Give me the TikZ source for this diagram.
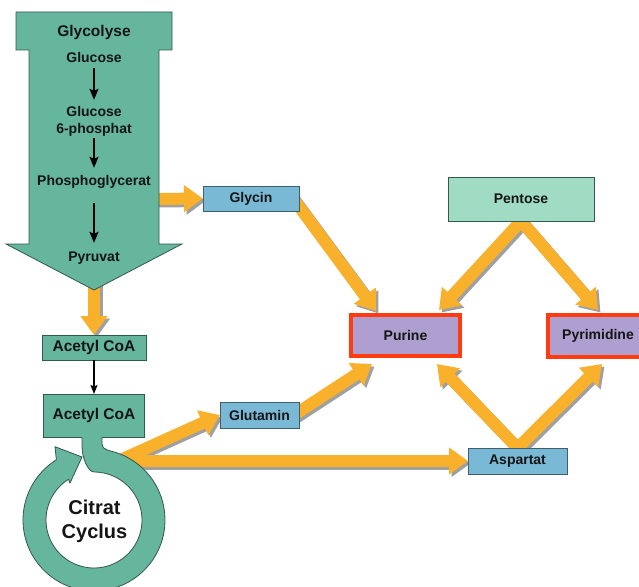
\documentclass[tikz,border=0pt]{standalone}
\usepackage{fontspec}
\setmainfont{Liberation Sans}
\usetikzlibrary{arrows.meta,calc}
\pgfdeclarelayer{back}
\pgfdeclarelayer{bg}
\pgfsetlayers{back,bg,main}
\definecolor{teal1}{HTML}{66B59D}
\definecolor{dkgreen}{HTML}{33584D}
\definecolor{blue1}{HTML}{7AB9D6}
\definecolor{dkblue}{HTML}{3E5F6E}
\definecolor{pent1}{HTML}{A0DCC4}
\definecolor{purp}{HTML}{AE9FD0}
\definecolor{red1}{HTML}{FF3B0F}
\definecolor{orng}{HTML}{F9B12C}
\definecolor{shad}{HTML}{A0A0A0}
\definecolor{txt}{HTML}{151515}
\tikzset{
  lbl/.style={font=\bfseries\fontsize{14}{16}\selectfont, inner sep=0pt, text height=10pt, text depth=3pt, text=txt},
  boxbase/.style={inner sep=0pt, outer sep=0pt, text=txt, font=\bfseries\fontsize{14}{16}\selectfont},
  tealbox/.style={boxbase, draw=dkgreen, line width=0.8pt, fill=teal1, font=\bfseries\fontsize{15.5}{18}\selectfont},
  bluebox/.style={boxbase, draw=dkblue, line width=0.8pt, fill=blue1},
  pentbox/.style={boxbase, draw=dkgreen, line width=0.8pt, fill=pent1},
  redbox/.style={boxbase, draw=red1, line width=4pt, fill=purp},
  oarr/.style={draw=orng, line width=12pt, line cap=butt, -{Triangle[width=26pt,length=19pt]}},
  oshadow/.style={draw=shad, line width=12pt, line cap=butt, -{Triangle[width=26pt,length=19pt]}},
  blk/.style={draw=black, line width=1.8pt, -{Stealth[length=11pt,width=9pt,inset=2pt]}},
  blkthin/.style={draw=black, line width=1.2pt, -{Stealth[length=9pt,width=7pt,inset=1.5pt]}},
  shape outline/.style={draw=dkgreen, line width=0.8pt}
}
\begin{document}
\begin{tikzpicture}[x=1pt,y=-1pt]
\clip (0,0) rectangle (639,586);
\begin{pgfonlayer}{back}
\fill[white] (0,0) rectangle (639,586);
\end{pgfonlayer}

% big glycolysis arrow
\filldraw[shape outline, fill=teal1] (16,12) -- (172,12) -- (172,50) -- (159,50) -- (159,244) -- (182,244) -- (94,290) -- (6,244) -- (29,244) -- (29,50) -- (16,50) -- cycle;
\node[lbl, font=\bfseries\fontsize{15.5}{18}\selectfont] (t0) at (94,33) {Glycolyse};
\node[lbl] (g1) at (94,59) {Glucose};
\node[lbl] (g2a) at (94,113) {Glucose};
\node[lbl] (g2b) at (94,130) {6-phosphat};
\node[lbl] (g3) at (94,182) {Phosphoglycerat};
\node[lbl] (g4) at (94,258) {Pyruvat};
\draw[blk, shorten <=2.5pt, shorten >=6.5pt] (g1.south) -- (g2a.north);
\draw[blk, shorten <=1.5pt, shorten >=7.5pt] (g2b.south) -- (g3.north);
\draw[blk, shorten <=14.5pt, shorten >=8.5pt] (g3.south) -- (g4.north);
\coordinate (gly-r) at (155,199);
\coordinate (gly-t) at (94,283);

% boxes
\node[bluebox, minimum width=96pt, minimum height=25pt] (glyc) at (251,198.5) {Glycin};
\node[pentbox, minimum width=146pt, minimum height=44pt] (pent) at (521,199) {Pentose};
\node[redbox, minimum width=109pt, minimum height=41pt] (pur) at (405.5,335.5) {Purine};
\node[redbox, minimum width=100pt, minimum height=42pt] (pyr) at (598,336) {Pyrimidine};
\node[bluebox, minimum width=79pt, minimum height=26pt] (glut) at (259.5,415) {Glutamin};
\node[bluebox, minimum width=99pt, minimum height=26pt] (asp) at (517.5,461) {Aspartat};
\node[tealbox, minimum width=104pt, minimum height=25pt] (ac1) at (94,347.5) {Acetyl CoA};
\node[tealbox, minimum width=101pt, minimum height=43pt] (ac2) at (94,415.5) {Acetyl CoA};
\draw[blkthin] (ac1.south) -- (ac2.north);

% citrate cycle ring
\fill[teal1] (82,436.6) -- (102,436.6) -- (102,444) .. controls (102,450) and (109.5,450.3) .. (117.1,452.9)
  -- plot[domain=-71:238, samples=90] ({94+71*cos(\x)},{520+71*sin(\x)})
  -- (55,446.7) -- (82,457) -- (70,483.1)
  -- plot[domain=0:1, samples=90] ({94+48*cos(238-328*\x)},{520+48*sin(238-328*\x)})
  .. controls (88,472) and (82,458) .. (82,446) -- cycle;
\draw[shape outline, line join=round] (102,437.4) -- (102,444) .. controls (102,450) and (109.5,450.3) .. (117.1,452.9)
  -- plot[domain=-71:238, samples=90] ({94+71*cos(\x)},{520+71*sin(\x)})
  -- (55,446.7) -- (82,457) -- (70,483.1)
  -- plot[domain=0:1, samples=90] ({94+48*cos(238-328*\x)},{520+48*sin(238-328*\x)})
  .. controls (88,472) and (82,458) .. (82,446) -- (82,437.4);
\node[text=txt, font=\bfseries\fontsize{20}{24}\selectfont, align=center, inner sep=0pt] (cit) at (94.5,521) {Citrat\\Cyclus};
\coordinate (cyc) at (118,461);

% arrow end points
\coordinate (glyc-s) at ([shift={(-7,-1.5)}]glyc.east);
\coordinate (glut-s) at ([shift={(-5,0)}]glut.east);
\coordinate (pur-g) at ([shift={(-29.5,-4)}]pur.north);
\coordinate (pur-p) at ([shift={(33.5,-5)}]pur.north);
\coordinate (pyr-p) at ([shift={(0,-5)}]pyr.north);
\coordinate (pur-a) at ([shift={(31.5,8)}]pur.south);
\coordinate (pyr-a) at ([shift={(4,7)}]pyr.south);
\coordinate (pur-u) at ([shift={(-33.5,8)}]pur.south);

\begin{pgfonlayer}{bg}
\foreach \a/\b in {gly-r/glyc.west, gly-t/ac1.north, glyc-s/pur-g, pent.south/pur-p, pent.south/pyr-p, asp.north/pur-a, asp.north/pyr-a, glut-s/pur-u, cyc/glut.west, cyc/asp.west}
  {\draw[oshadow] ([shift={(2.5,2.5)}]\a) -- ([shift={(2.5,2.5)}]\b);}
\foreach \a/\b in {gly-r/glyc.west, gly-t/ac1.north, glyc-s/pur-g, pent.south/pur-p, pent.south/pyr-p, asp.north/pur-a, asp.north/pyr-a, glut-s/pur-u, cyc/glut.west, cyc/asp.west}
  {\draw[oarr] (\a) -- (\b);}
\end{pgfonlayer}
\end{tikzpicture}
\end{document}
